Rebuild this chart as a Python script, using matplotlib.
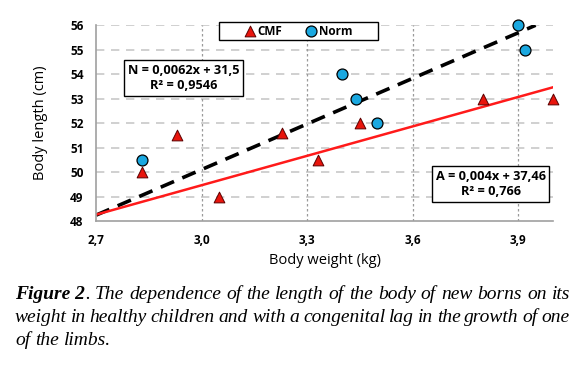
import numpy as np
import matplotlib.pyplot as plt
from matplotlib.patches import Rectangle

# CMF group (triangles)
cmf_w = [2.83, 2.93, 3.05, 3.23, 3.33, 3.45, 3.80, 4.00]
cmf_l = [50.0, 51.5, 49.0, 51.6, 50.5, 52.0, 53.0, 53.0]
# Norm group (circles)
norm_w = [2.83, 3.40, 3.44, 3.50, 3.90, 3.92]
norm_l = [50.5, 54.0, 53.0, 52.0, 56.0, 55.0]

# trendline coefficients (x in grams)
n_coef = (0.0062, 31.5)
a_coef = (0.004, 37.46)
n_range = [2.7, 3.95]
a_range = [2.7, 4.0]

xticks = [2.7, 3.0, 3.3, 3.6, 3.9]
xticklabels = ['2,7', '3,0', '3,3', '3,6', '3,9']
yticks = list(range(48, 57))

fig = plt.figure(figsize=(5.86, 3.65), dpi=100)
ax = fig.add_axes([0.164, 0.3945, 0.780, 0.537])

font = 'Open Sans'

for y in yticks[1:]:
    ax.axhline(y, color='#c8c8c8', lw=1.2, ls=(0, (5, 4)), zorder=0)
for x in xticks[1:]:
    ax.axvline(x, color='#9a9a9a', lw=0.9, ls=(0, (2, 2)), zorder=0)

xn = np.array(n_range)
ax.plot(xn, n_coef[0] * xn * 1000 + n_coef[1], color='black', lw=2.6,
        ls=(0, (4, 2.5)), zorder=2)
xa = np.array(a_range)
ax.plot(xa, a_coef[0] * xa * 1000 + a_coef[1], color='#ff1a1a', lw=1.8, zorder=2)

ax.scatter(cmf_w, cmf_l, marker='^', s=60, color='#e8140c', edgecolor='#5a0000',
           linewidth=0.7, zorder=3, label='CMF', clip_on=False)
ax.scatter(norm_w, norm_l, marker='o', s=62, color='#1aa8e0', edgecolor='black',
           linewidth=0.9, zorder=3, label='Norm', clip_on=False)

ax.set_xlim(2.7, 4.0)
ax.set_ylim(48, 56)
ax.set_xticks(xticks)
ax.set_xticklabels(xticklabels)
ax.set_yticks(yticks)
for lab in ax.get_xticklabels() + ax.get_yticklabels():
    lab.set_fontfamily(font)
    lab.set_fontweight('bold')
    lab.set_fontsize(8.5)
ax.tick_params(length=0, pad=9)
for s in ['top', 'right']:
    ax.spines[s].set_visible(False)
for s in ['left', 'bottom']:
    ax.spines[s].set_color('#a0a0a0')
    ax.spines[s].set_linewidth(1.2)

ax.set_xlabel('Body weight (kg)', fontfamily=font, fontsize=10.5, labelpad=5)
ax.set_ylabel('Body length (cm)', fontfamily=font, fontsize=10.5, labelpad=16)

# legend with its own frame
ax.add_patch(Rectangle((0.269, 0.923), 0.348, 0.092, transform=ax.transAxes,
                       facecolor='white', edgecolor='black', lw=1.0,
                       zorder=6, clip_on=False))
leg = ax.legend(loc='center', bbox_to_anchor=(0.44, 0.969), ncol=2,
                frameon=False,
                prop={'family': font, 'weight': 'bold', 'size': 8.5},
                handletextpad=0.0, columnspacing=1.8, borderpad=0.0,
                handlelength=1.3)
leg.set_zorder(7)

box = dict(boxstyle='square,pad=0.3', facecolor='white', edgecolor='black', lw=1.0)
ax.text(0.191, 0.73, 'N = 0,0062x + 31,5\nR² = 0,9546', transform=ax.transAxes,
        ha='center', va='center', fontfamily=font, fontweight='bold', fontsize=9.2,
        bbox=box, linespacing=1.25, zorder=5)
ax.text(0.863, 0.189, 'A = 0,004x + 37,46\nR² = 0,766', transform=ax.transAxes,
        ha='center', va='center', fontfamily=font, fontweight='bold', fontsize=9.2,
        bbox=box, linespacing=1.25, zorder=5)

# caption, justified by hand
serif = 'Liberation Serif'
cap_size = 14
left_px, right_px = 15, 570
fig.canvas.draw()
rend = fig.canvas.get_renderer()


def text_width(s, bold=False):
    t = fig.text(0, 0, s, fontfamily=serif, fontstyle='italic',
                 fontweight='bold' if bold else 'normal', fontsize=cap_size)
    w = t.get_window_extent(rend).width
    t.remove()
    return w


space_w = text_width('a a') - text_width('aa')


def put_line(parts, y_px, justify=True):
    # parts: list of (word, bold); a word starting with '.' sticks to the previous one
    texts = []
    for w, b in parts:
        t = fig.text(0, 1 - y_px / 365, w, fontfamily=serif, fontstyle='italic',
                     fontweight='bold' if b else 'normal', fontsize=cap_size,
                     va='baseline')
        texts.append(t)
    widths = [t.get_window_extent(rend).width for t in texts]
    gaps = [0 if parts[i + 1][0].startswith('.') else 1 for i in range(len(parts) - 1)]
    sp = space_w
    if justify:
        sp = (right_px - left_px - sum(widths)) / sum(gaps)
    x = left_px
    for i, t in enumerate(texts):
        t.set_x(x / 586)
        x += widths[i]
        if i < len(gaps):
            x += sp * gaps[i]


line1 = [('Figure 2', True), ('.', False)] + [
    (w, False) for w in 'The dependence of the length of the body of new borns on its'.split()]
put_line(line1, 299)
put_line([(w, False) for w in
          'weight in healthy children and with a congenital lag in the growth of one'.split()], 322)
put_line([(w, False) for w in 'of the limbs.'.split()], 345, justify=False)

fig.savefig('out.png', dpi=100)
